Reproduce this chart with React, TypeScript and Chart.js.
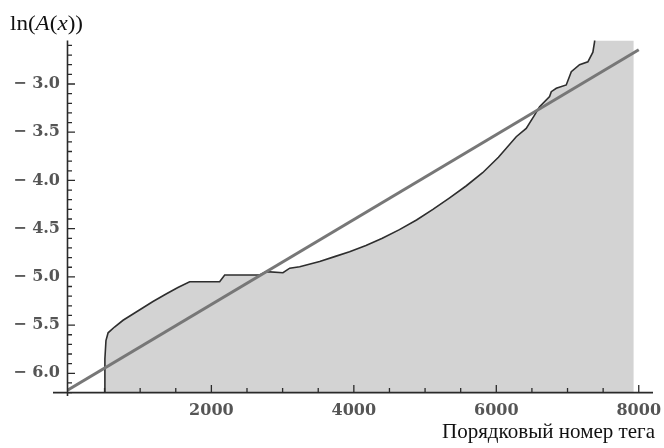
import React, { useEffect, useRef } from 'react';
import { Chart, registerables } from 'chart.js';

Chart.register(...registerables);

// ---- data ----
const curveX = [500, 505, 520, 550, 640, 760, 900, 1040, 1180, 1370, 1530, 1695, 2116, 2187, 2678, 2772, 3005, 3100, 3240, 3520, 3730, 3940, 4170, 4400, 4640, 4880, 5110, 5345, 5580, 5808, 6030, 6280, 6420, 6537, 6608, 6748, 6772, 6842, 6982, 7053, 7169, 7286, 7356, 7380, 7390, 7930];
const curveY = [-6.25, -5.85, -5.66, -5.58, -5.52, -5.45, -5.385, -5.32, -5.255, -5.175, -5.11, -5.05, -5.05, -4.98, -4.98, -4.946, -4.957, -4.91, -4.895, -4.84, -4.79, -4.74, -4.675, -4.6, -4.51, -4.41, -4.3, -4.18, -4.055, -3.92, -3.76, -3.547, -3.46, -3.322, -3.235, -3.131, -3.08, -3.045, -3.01, -2.872, -2.8, -2.77, -2.67, -2.56, -2.3, -2.3];
const fitX = [-20, 8000];
const fitY = [-6.175, -2.645];
const xMajorTicks = [2000, 4000, 6000, 8000];
const yMajorTicks = [-6.0, -5.5, -5.0, -4.5, -4.0, -3.5, -3.0];
const xTitle = 'Порядковый номер тега';

const X_MIN = -20;
const X_MAX = 8200;
const Y_MIN = -6.2;
const Y_MAX = -2.55;

const CHART_W = 664;
const CHART_H = 448;
const AREA_LEFT = 67.5;
const AREA_RIGHT = 653;
const AREA_TOP = 40.6;
const AREA_BOTTOM = 392.6;

const drawStretched = (ctx: CanvasRenderingContext2D, parts: { t: string; italic?: boolean }[], left: number, baseline: number, targetWidth: number, size: number) => {
  const fontFor = (it?: boolean) => `${it ? 'italic ' : ''}${size}px "Liberation Serif", "Times New Roman", serif`;
  let total = 0;
  const widths = parts.map((p) => {
    ctx.font = fontFor(p.italic);
    const w = ctx.measureText(p.t).width;
    total += w;
    return w;
  });
  const sx = targetWidth / total;
  ctx.save();
  ctx.translate(left, baseline);
  ctx.scale(sx, 1);
  ctx.fillStyle = '#111';
  ctx.textBaseline = 'alphabetic';
  ctx.textAlign = 'left';
  let cx = 0;
  parts.forEach((p, i) => {
    ctx.font = fontFor(p.italic);
    ctx.fillText(p.t, cx, 0);
    cx += widths[i];
  });
  ctx.restore();
};

const axesPlugin = {
  id: 'mmaAxes',
  afterDatasetsDraw(chart: any) {
    const { ctx, chartArea, scales } = chart;
    const xs = scales.x;
    const ys = scales.y;
    const left = chartArea.left;
    const bottom = chartArea.bottom;
    ctx.save();
    ctx.strokeStyle = '#2a2a2a';
    ctx.lineWidth = 1.6;
    ctx.beginPath();
    ctx.moveTo(left - 14.5, bottom);
    ctx.lineTo(chartArea.right, bottom);
    ctx.moveTo(left, chartArea.top);
    ctx.lineTo(left, bottom + 3.5);
    ctx.stroke();
    // x ticks (inside)
    ctx.lineWidth = 1.3;
    ctx.beginPath();
    for (let v = 500; v <= 8000; v += 500) {
      const px = xs.getPixelForValue(v);
      const len = v % 2000 === 0 ? 7.5 : 4.5;
      ctx.moveTo(px, bottom);
      ctx.lineTo(px, bottom - len);
    }
    // y ticks (inside)
    for (let i = -62; i <= -26; i++) {
      const v = i / 10;
      const py = ys.getPixelForValue(v);
      const len = i % 5 === 0 ? 7.5 : 4.5;
      ctx.moveTo(left, py);
      ctx.lineTo(left + len, py);
    }
    ctx.stroke();
    ctx.restore();
  },
  afterDraw(chart: any) {
    const { ctx } = chart;
    drawStretched(ctx, [{ t: 'ln(' }, { t: 'A', italic: true }, { t: '(' }, { t: 'x', italic: true }, { t: '))' }], 10, 30, 73, 21);
    drawStretched(ctx, [{ t: xTitle }], 442, 438, 213, 21);
  },
};

export default function App() {
  const ref = useRef<HTMLCanvasElement | null>(null);
  useEffect(() => {
    if (!ref.current) return;
    const curve = curveX.map((x, i) => ({ x, y: curveY[i] }));
    const fit = fitX.map((x, i) => ({ x, y: fitY[i] }));
    const tickFont = { family: '"DejaVu Serif", serif', size: 16, weight: 'bold' as const };
    const chart = new Chart(ref.current, {
      type: 'line',
      data: {
        datasets: [
          {
            label: 'fit',
            data: fit,
            borderColor: '#777777',
            borderWidth: 3,
            pointRadius: 0,
            fill: false,
            tension: 0,
          },
          {
            label: 'ln(A(x))',
            data: curve,
            borderColor: '#2e2e2e',
            borderWidth: 1.6,
            backgroundColor: 'rgb(211,211,211)',
            pointRadius: 0,
            fill: 'start',
            tension: 0,
            clip: 0,
          },
        ],
      },
      options: {
        responsive: false,
        animation: false,
        events: [],
        layout: { padding: { left: 0, right: CHART_W - AREA_RIGHT, top: AREA_TOP, bottom: 0 } },
        plugins: { legend: { display: false }, tooltip: { enabled: false }, title: { display: false } },
        scales: {
          x: {
            type: 'linear',
            min: X_MIN,
            max: X_MAX,
            grid: { display: false, drawTicks: false },
            border: { display: false },
            ticks: {
              padding: 9,
              color: '#555555',
              font: tickFont,
              autoSkip: false,
              maxRotation: 0,
              callback: (v: any) => String(v),
            },
            afterBuildTicks: (s: any) => {
              s.ticks = xMajorTicks.map((v) => ({ value: v }));
            },
            afterFit: (s: any) => {
              s.height = CHART_H - AREA_BOTTOM;
              s.paddingLeft = 0;
              s.paddingRight = 0;
            },
          },
          y: {
            type: 'linear',
            min: Y_MIN,
            max: Y_MAX,
            grid: { display: false, drawTicks: false },
            border: { display: false },
            ticks: {
              padding: 7.5,
              color: '#555555',
              font: tickFont,
              autoSkip: false,
              callback: (v: any) => '\u2212 ' + Math.abs(Number(v)).toFixed(1),
            },
            afterBuildTicks: (s: any) => {
              s.ticks = yMajorTicks.map((v) => ({ value: v }));
            },
            afterFit: (s: any) => {
              s.width = AREA_LEFT;
              s.paddingTop = 0;
              s.paddingBottom = 0;
            },
          },
        },
      },
      plugins: [axesPlugin],
    });
    return () => chart.destroy();
  }, []);
  return (
    <div style={{ position: 'fixed', left: 0, top: 0, width: CHART_W, height: CHART_H, background: '#fff' }}>
      <canvas ref={ref} width={CHART_W} height={CHART_H} style={{ display: 'block' }} />
    </div>
  );
}
